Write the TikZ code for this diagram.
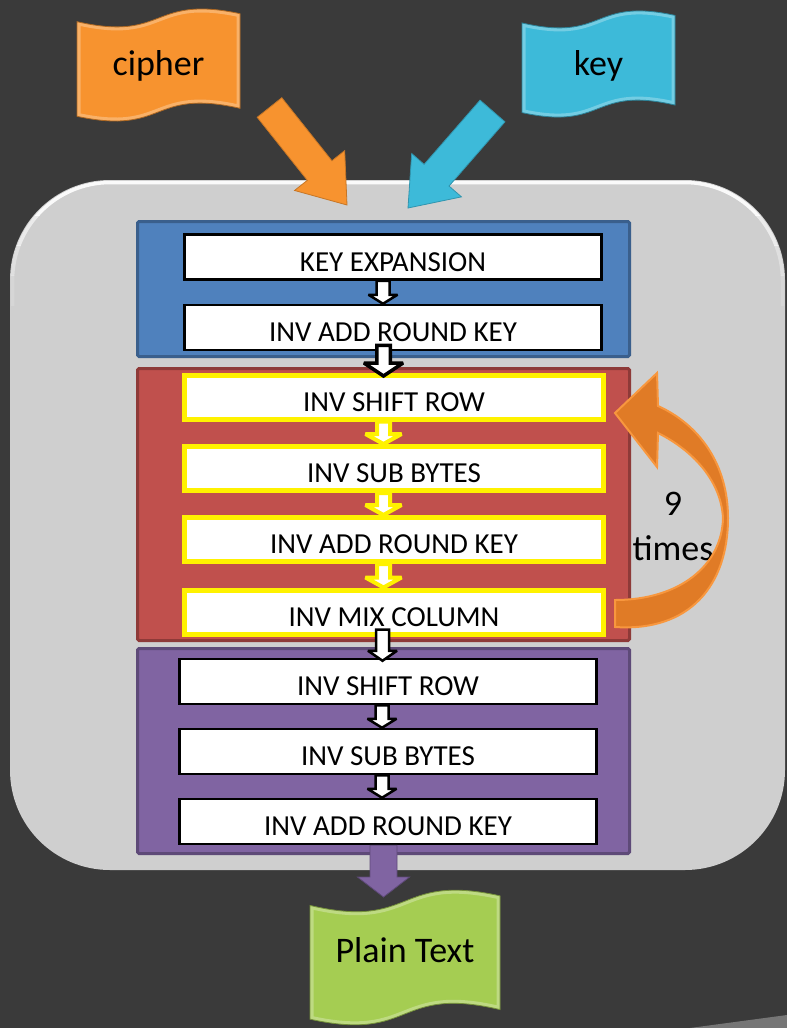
\documentclass[tikz,border=0pt]{standalone}
\usepackage{fontspec}
\setmainfont{Carlito}
\usetikzlibrary{calc}
\pgfdeclarelayer{background}
\pgfsetlayers{background,main}

\definecolor{pagebg}{HTML}{3A3A3A}
\definecolor{panelgray}{HTML}{CFCFCF}
\definecolor{blueF}{HTML}{4F81BD}
\definecolor{blueD}{HTML}{3A5F8C}
\definecolor{redF}{HTML}{C0504D}
\definecolor{redD}{HTML}{8E3A38}
\definecolor{purF}{HTML}{8064A2}
\definecolor{purD}{HTML}{5E4A78}
\definecolor{ciphO}{HTML}{F7932F}
\definecolor{keyB}{HTML}{3DBAD9}
\definecolor{plainG}{HTML}{A5CD52}
\definecolor{curveO}{HTML}{E07B26}
\definecolor{curveL}{HTML}{F8973E}

\newcommand{\boxfont}{\fontsize{29}{32}\selectfont}
\newcommand{\flagfont}{\fontsize{36}{45}\selectfont}

% block arrow: #1 style, #2 tail, #3 tip, #4 shaft half width, #5 head half width, #6 head length
\newcommand{\blockarr}[6]{%
  \coordinate (ba-h) at ($(#3)!#6!(#2)$);
  \path[#1] ($(#2)!#4!90:(#3)$) -- ($(ba-h)!#4!90:(#3)$) -- ($(ba-h)!#5!90:(#3)$) -- (#3)
    -- ($(ba-h)!#5!-90:(#3)$) -- ($(ba-h)!#4!-90:(#3)$) -- ($(#2)!#4!-90:(#3)$) -- cycle;}

% outline of a waving banner that fills the box of node #1
\newcommand{\flagpath}[1]{%
    let \p1=(#1.north west), \p2=(#1.south east),
        \n1={\x2-\x1}, \n2={\y1-\y2} in
    ({\x1}, {\y1-0.12*\n2})
    .. controls ({\x1+0.55*\n1}, {\y1-0.30*\n2}) and ({\x1+0.45*\n1}, {\y1+0.12*\n2}) .. ({\x2}, {\y1-0.05*\n2})
    -- ({\x2}, {\y2+0.12*\n2})
    .. controls ({\x2-0.55*\n1}, {\y2+0.30*\n2}) and ({\x2-0.45*\n1}, {\y2-0.12*\n2}) .. ({\x1}, {\y2+0.05*\n2})
    -- cycle}

\newcommand{\waveflag}[2]{%
  \path[fill=#2] \flagpath{#1};
  \begin{scope}
    \clip \flagpath{#1};
    \draw[white, opacity=0.28, line width=7pt] \flagpath{#1};
  \end{scope}
  \draw[#2!70!black, line width=0.8pt] \flagpath{#1};}

\begin{document}
\begin{tikzpicture}[x=1pt,y=-1pt,
  secbox/.style={line width=3pt, minimum width=492pt, inner sep=0pt, outer sep=0pt, rounded corners=1.5pt},
  opbox/.style={draw=black, fill=white, line width=2.5pt, minimum width=417pt, minimum height=45pt,
    inner sep=0pt, font=\boxfont, text height=28.5pt, text depth=0pt},
  yelbox/.style={opbox, draw=yellow, line width=5pt, minimum width=419pt, minimum height=44pt},
  flagnode/.style={inner sep=0pt, outer sep=0pt, font=\flagfont, text height=25pt},
  whitearr/.style={draw=black, fill=white, line width=2.5pt, line join=miter, miter limit=3},
  blackarr/.style={draw=black, fill=white, line width=3.5pt, line join=miter, miter limit=3},
  yelarr/.style={draw=yellow, fill=white, line width=4pt, line join=miter, miter limit=3},
  bigarr/.style={line width=0.8pt, line join=miter},
]
\useasboundingbox (0,0) rectangle (787,1028);

% inputs and output banners
\node[flagnode, minimum width=163pt, minimum height=114pt, text depth=5pt] (cipher) at (158.5,65) {cipher};
\node[flagnode, minimum width=153pt, minimum height=108pt, text depth=3pt] (key) at (598.5,64) {key};
\node[flagnode, minimum width=190pt, minimum height=137pt, text depth=15pt] (plain) at (405,957.5) {Plain Text};

\begin{pgfonlayer}{background}
  \fill[pagebg] (0,0) rectangle (787,1028);
  \fill[black!55!pagebg!60!white] (690,1028) -- (787,1015) -- (787,1028) -- cycle;
  \node[fill=panelgray, rounded corners=100pt, minimum width=775pt, minimum height=690pt,
        inner sep=0pt, outer sep=0pt] (panel) at (397.5,525) {};
  % soft white rim along the top of the panel
  \foreach \ya/\yb/\op in {170/215/0.9, 215/245/0.6, 245/275/0.35, 275/305/0.15} {
    \begin{scope}
      \clip (0,\ya) rectangle (787,\yb);
      \draw[white, line width=3.5pt, rounded corners=98pt, opacity=\op] (12.5,182.5) rectangle (782.5,867.5);
    \end{scope}
  }
  \waveflag{cipher}{ciphO}
  \waveflag{key}{keyB}
  \waveflag{plain}{plainG}
\end{pgfonlayer}

% three stages
\node[secbox, fill=blueF, draw=blueD, minimum height=135pt] (stage1) at (383.5,289) {};
\node[secbox, fill=redF, draw=redD, minimum height=272pt] (stage2) at (383.5,504.5) {};
\node[secbox, fill=purF, draw=purD, minimum height=205pt] (stage3) at (383.5,751) {};

\node[opbox] (kexp) at (393,257) {KEY EXPANSION};
\node[opbox] (ark0) at (393,327.5) {INV ADD ROUND KEY};
\node[yelbox] (isr1) at (394,397) {INV SHIFT ROW};
\node[yelbox] (isb1) at (394,468.5) {INV SUB BYTES};
\node[yelbox] (ark1) at (394,539.5) {INV ADD ROUND KEY};
\node[yelbox] (imc1) at (394,612) {INV MIX COLUMN};
\node[opbox] (isr2) at (388,681.5) {INV SHIFT ROW};
\node[opbox] (isb2) at (388,751.5) {INV SUB BYTES};
\node[opbox] (ark2) at (388,821.5) {INV ADD ROUND KEY};

% arrows between the steps
\coordinate (a1s) at ([xshift=-10pt]kexp.south);
\coordinate (a1e) at ([xshift=-10pt]ark0.north);
\blockarr{whitearr}{a1s}{a1e}{6.5pt}{14.5pt}{9pt}

\coordinate (a2s) at ([xshift=-9.5pt,yshift=6pt]ark0.south);
\coordinate (a2e) at ([xshift=-10.5pt,yshift=-3.5pt]isr1.north);
\blockarr{blackarr}{a2s}{a2e}{6.75pt}{19.5pt}{13pt}

\coordinate (a3s) at ([xshift=-10.5pt]isr1.south);
\coordinate (a3e) at ([xshift=-10.5pt]isb1.north);
\blockarr{yelarr}{a3s}{a3e}{6.5pt}{18pt}{10pt}
\coordinate (a4s) at ([xshift=-10.5pt]isb1.south);
\coordinate (a4e) at ([xshift=-10.5pt]ark1.north);
\blockarr{yelarr}{a4s}{a4e}{6.5pt}{18pt}{10pt}
\coordinate (a5s) at ([xshift=-10.5pt]ark1.south);
\coordinate (a5e) at ([xshift=-10.5pt]imc1.north);
\blockarr{yelarr}{a5s}{a5e}{6.5pt}{18pt}{10pt}

\coordinate (a6s) at ([xshift=-11.5pt,yshift=7pt]imc1.south);
\coordinate (a6e) at ([xshift=-5.5pt,yshift=-3pt]isr2.north);
\blockarr{whitearr}{a6s}{a6e}{6.5pt}{14.5pt}{10pt}

\coordinate (a7s) at ([xshift=-6pt]isr2.south);
\coordinate (a7e) at ([xshift=-6pt]isb2.north);
\blockarr{whitearr}{a7s}{a7e}{6.5pt}{14.5pt}{9pt}
\coordinate (a8s) at ([xshift=-6pt]isb2.south);
\coordinate (a8e) at ([xshift=-6pt]ark2.north);
\blockarr{whitearr}{a8s}{a8e}{6.5pt}{14.5pt}{9pt}

% output arrow
\coordinate (a9s) at ([xshift=-4.5pt]ark2.south);
\coordinate (a9e) at ([xshift=-21.5pt,yshift=-8pt]plain.north);
\blockarr{bigarr, fill=purF, draw=purD}{a9s}{a9e}{13.5pt}{26pt}{20pt}

% input arrows
\coordinate (cA) at ([shift={(29.5,-14.5)}]cipher.south east);
\coordinate (cB) at (347,205);
\blockarr{bigarr, fill=ciphO, draw=ciphO!80!black}{cA}{cB}{15.7pt}{32pt}{44pt}
\coordinate (kA) at ([shift={(-29.5,-7)}]key.south west);
\coordinate (kB) at (408,208);
\blockarr{bigarr, fill=keyB, draw=keyB!80!black}{kA}{kB}{16.5pt}{33pt}{43.5pt}

% loop count and the loop-back arrow
\node[font=\flagfont, align=center, inner sep=0pt] (reps) at (673,526) {9\\times};
\path[fill=curveO, draw=curveL, line width=2pt, line join=miter]
  (615,627) .. controls (690,632) and (728,585) .. (728,518)
  .. controls (728,465) and (700,425) .. (658,406)
  -- (657,373) -- (615,413) -- (657,467) -- (658,433)
  .. controls (692,450) and (721,480) .. (723,518)
  .. controls (722,565) and (680,600) .. (615,600) -- cycle;
\end{tikzpicture}
\end{document}
